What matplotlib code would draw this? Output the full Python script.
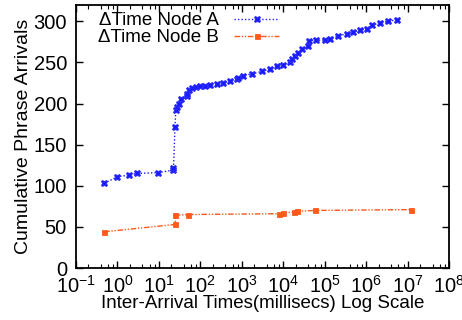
import matplotlib
matplotlib.use("Agg")
import matplotlib.pyplot as plt
from matplotlib.ticker import LogLocator, NullFormatter, FixedLocator

plt.rcParams['font.family'] = ['Liberation Sans', 'DejaVu Sans']
plt.rcParams['mathtext.fontset'] = 'custom'
plt.rcParams['mathtext.rm'] = 'Liberation Sans'
plt.rcParams['mathtext.it'] = 'Liberation Sans'

# Node A: inter-arrival time (ms) vs cumulative count
node_a_time = [0.48, 1.0, 1.93, 2.96, 9.7, 22.3, 22.5, 24.5, 25.5, 27.9, 30.5, 33.6,
               47.7, 48.5, 53, 64, 77, 98, 130, 171, 249, 359, 520, 755, 826, 1090,
               1740, 3030, 4800, 6960, 10050, 14580, 16000, 19270, 23130, 27930,
               40330, 41200, 61900, 102000, 134600, 213600, 340700, 491700, 713500,
               1.035e6, 1.367e6, 2.17e6, 3.44e6, 5.67e6]
node_a_count = [103, 111, 113, 115, 116, 119, 121, 172, 192, 196, 200, 205,
                209, 211, 217, 219, 220, 221, 221, 222, 224, 225, 227, 230, 231, 234,
                236, 239, 242, 245, 247, 251, 254, 258, 262, 266,
                270, 276, 277, 277, 279, 282, 285, 287, 289,
                291, 295, 298, 300, 302]

# Node B: inter-arrival time (ms) vs cumulative count
node_b_time = [0.48, 25, 25, 50, 7900, 9800, 18600, 21000, 60000, 1.2e7]
node_b_count = [44, 53, 64, 65, 66, 67, 68, 69, 70, 71]

x_ticks = [1e-1, 1e0, 1e1, 1e2, 1e3, 1e4, 1e5, 1e6, 1e7, 1e8]
x_tick_labels = [r'$10^{-1}$', r'$10^{0}$', r'$10^{1}$', r'$10^{2}$', r'$10^{3}$',
                 r'$10^{4}$', r'$10^{5}$', r'$10^{6}$', r'$10^{7}$', r'$10^{8}$']
y_ticks = [0, 50, 100, 150, 200, 250, 300]

fig = plt.figure(figsize=(4.62, 3.2), dpi=100)
ax = fig.add_axes([0.1645, 0.1625, 0.8074, 0.8225])

ax.plot(node_a_time, node_a_count, color='#1a1aff', linestyle=(0, (1, 1.5)),
        linewidth=1.0, marker='X', markersize=4.5, markeredgewidth=0.6,
        markeredgecolor='#3030ff', label='\u0394Time Node A')
ax.plot(node_b_time, node_b_count, color='#ff5a1a', linestyle=(0, (4, 1.2, 1, 1.2, 1, 1.2)),
        linewidth=1.0, marker='s', markersize=3.6, markeredgewidth=0.6,
        label='\u0394Time Node B')

ax.set_xscale('log')
ax.set_xlim(1e-1, 1e8)
ax.set_ylim(0, 320)
ax.xaxis.set_major_locator(FixedLocator(x_ticks))
ax.set_xticklabels(x_tick_labels)
ax.xaxis.set_minor_locator(LogLocator(base=10, subs=[2, 4, 6, 8], numticks=20))
ax.xaxis.set_minor_formatter(NullFormatter())
ax.set_yticks(y_ticks)

ax.tick_params(axis='both', which='major', direction='in', length=5, width=1.0,
               top=True, right=True, labelsize=14.5)
ax.tick_params(axis='x', which='major', pad=5)
ax.tick_params(axis='y', which='major', pad=6.5)
ax.tick_params(axis='x', which='minor', direction='in', length=3, width=0.8,
               top=True, bottom=True)
for s in ax.spines.values():
    s.set_linewidth(1.3)

ax.set_xlabel('Inter-Arrival Times(millisecs) Log Scale', fontsize=13.5, labelpad=-1)
ax.set_ylabel('Cumulative Phrase Arrivals', fontsize=14, labelpad=1)

leg = ax.legend(loc='upper left', bbox_to_anchor=(0.03, 1.015), frameon=False,
                markerfirst=False, fontsize=13.5, handlelength=2.4,
                handletextpad=0.8, labelspacing=0.0, borderaxespad=0.2)

fig.savefig('out.png', dpi=100)
